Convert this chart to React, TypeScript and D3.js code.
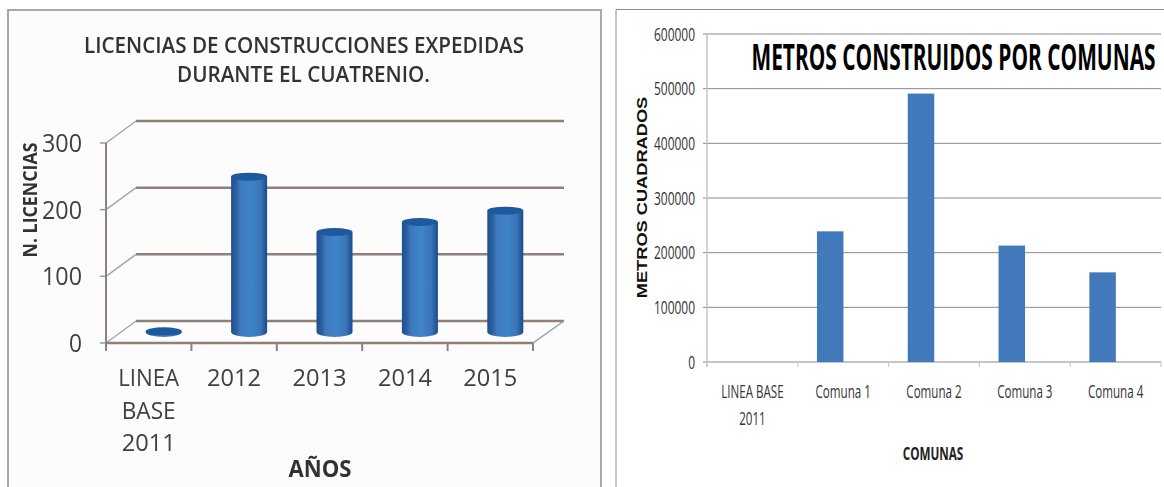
import React from "react";
import * as d3 from "d3";

const leftCategories = ["LINEA BASE 2011", "2012", "2013", "2014", "2015"];
const leftCategoryLines = [["LINEA", "BASE", "2011"], ["2012"], ["2013"], ["2014"], ["2015"]];
const leftValues = [1, 233, 150, 165, 182];
const leftTicks = [0, 100, 200, 300];
const leftTitle = ["LICENCIAS DE CONSTRUCCIONES EXPEDIDAS", "DURANTE EL CUATRENIO."];

const rightCategories = ["LINEA BASE 2011", "Comuna 1", "Comuna 2", "Comuna 3", "Comuna 4"];
const rightCategoryLines = [["LINEA BASE", "2011"], ["Comuna 1"], ["Comuna 2"], ["Comuna 3"], ["Comuna 4"]];
const rightValues = [0, 239000, 491000, 213000, 164000];
const rightTicks = [0, 100000, 200000, 300000, 400000, 500000, 600000];

const FONT = "'Open Sans', 'Liberation Sans', sans-serif";
const WALL = "#8f8078";

function LeftChart() {
  const x = d3.scaleBand<string>().domain(leftCategories).range([106, 533]);
  const y = d3.scaleLinear().domain([0, 300]).range([343, 143]);
  const dx = 30, dy = -22;
  const ellipse = d3.arc();
  const rx = 18, ry = 4;
  return (
    <g>
      <rect x={8} y={10} width={592} height={477} fill="#fcfcfc" />
      <path d="M8,487V10H600" fill="none" stroke="#a8a8a8" strokeWidth={2} />
      <g filter="url(#soft)">
        {leftTitle.map((t, i) => (
          <text key={t} x={i === 0 ? 304 : 303.5} y={[53, 82][i]} textAnchor="middle" fontFamily={FONT} fontWeight={600}
            fontSize={21} fill="#333" textLength={i === 0 ? 440 : 253} lengthAdjust="spacingAndGlyphs">{t}</text>
        ))}
        {leftTicks.map((t) => (
          <g key={t}>
            <line x1={136} x2={564} y1={y(t) + dy} y2={y(t) + dy} stroke={WALL} strokeWidth={2.5} />
            <line x1={106} x2={136} y1={y(t)} y2={y(t) + dy} stroke="#9fa9ad" strokeWidth={1.5} />
            <line x1={100} x2={106} y1={y(t)} y2={y(t)} stroke="#7fa3bd" strokeWidth={1.5} />
            <text x={82} y={y(t) + 9} fontFamily={FONT} fontSize={25} fill="#404040"
              textAnchor="end" textLength={t === 0 ? 13 : 40} lengthAdjust="spacingAndGlyphs">{t}</text>
          </g>
        ))}
        <line x1={106} x2={106} y1={y(300)} y2={y(0) + 5} stroke={WALL} strokeWidth={2} />
        <line x1={106} x2={533} y1={y(0)} y2={y(0)} stroke={WALL} strokeWidth={2.5} />
        <line x1={533} x2={564} y1={y(0)} y2={y(0) + dy} stroke="#7fa3bd" strokeWidth={1.5} />
        {leftCategories.map((c) => (
          <line key={c} x1={x(c)!} x2={x(c)!} y1={y(0)} y2={y(0) + 8} stroke={WALL} strokeWidth={2} />
        ))}
        <line x1={533} x2={533} y1={y(0)} y2={y(0) + 8} stroke={WALL} strokeWidth={2} />
        {leftCategories.map((c, i) => {
          const cx = x(c)! + x.bandwidth() / 2 + dx / 2;
          const base = y(0) + dy / 2;
          const top = y(leftValues[i]) + dy / 2;
          const lid = ellipse({ innerRadius: 0, outerRadius: 1, startAngle: 0, endAngle: 2 * Math.PI } as any)!;
          return (
            <g key={c}>
              <path
                d={`M${cx - rx},${top}V${base}A${rx},${ry + 1} 0 0 0 ${cx + rx},${base}V${top}Z`}
                fill="url(#cyl)"
              />
              <path d={lid} transform={`translate(${cx},${top}) scale(${rx},${ry})`} fill="#1f5a9c" />
            </g>
          );
        })}
        {leftCategoryLines.map((lines, i) =>
          lines.map((l, j) => (
            <text key={l + i} x={x(leftCategories[i])! + x.bandwidth() / 2} y={386 + j * 32.5} textAnchor="middle"
              fontFamily={FONT} fontSize={23} fill="#404040"
              textLength={l.length === 5 ? 61 : 54} lengthAdjust="spacingAndGlyphs">{l}</text>
          ))
        )}
        <text x={320} y={477} textAnchor="middle" fontFamily={FONT} fontWeight={700} fontSize={23} fill="#333"
          textLength={63} lengthAdjust="spacingAndGlyphs">AÑOS</text>
        <text transform="translate(37,200) rotate(-90)" x={0} y={0} textAnchor="middle" fontFamily={FONT} fontWeight={700}
          fontSize={19} fill="#333" textLength={115} lengthAdjust="spacingAndGlyphs">N. LICENCIAS</text>
      </g>
    </g>
  );
}

function RightChart() {
  const x = d3.scaleBand<string>().domain(rightCategories).range([707, 1161]);
  const y = d3.scaleLinear().domain([0, 600000]).range([362, 34]);
  const barW = 26.5;
  const barShift = -13;
  return (
    <g>
      <path d="M616,487V9.5H1164" fill="none" stroke="#8c8c8c" strokeWidth={1} />
      <line x1={601} x2={601} y1={9} y2={487} stroke="#8c8c8c" strokeWidth={1.5} />
      {rightTicks.map((t) => (
        <g key={t}>
          <line x1={703} x2={1161} y1={y(t)} y2={y(t)} stroke="#8a8a8a" strokeWidth={1} />
          <text transform={`translate(695,${y(t) + 6.5}) scale(0.665,1)`} textAnchor="end" fontFamily={FONT}
            fontSize={18} fill="#333">{t}</text>
        </g>
      ))}
      <line x1={707} x2={707} y1={34} y2={367} stroke="#c4c4c4" strokeWidth={1.5} />
      {rightCategories.map((c) => (
        <line key={c} x1={x(c)!} x2={x(c)!} y1={362} y2={367} stroke="#c4c4c4" strokeWidth={1} />
      ))}
      <line x1={1161} x2={1161} y1={362} y2={367} stroke="#c4c4c4" strokeWidth={1} />
      {rightCategories.map((c, i) => (
        <rect key={c} x={x(c)! + x.bandwidth() / 2 - barW / 2 + barShift} y={y(rightValues[i])}
          width={barW} height={y(0) - y(rightValues[i])} fill="#4279ba" />
      ))}
      {rightCategoryLines.map((lines, i) =>
        lines.map((l, j) => (
          <text key={l + i} transform={`translate(${x(rightCategories[i])! + x.bandwidth() / 2},${398 + j * 27}) scale(0.645,1)`}
            textAnchor="middle" fontFamily={FONT} fontSize={18} fill="#333">{l}</text>
        ))
      )}
      <text transform="translate(933,460) scale(0.65,1)" textAnchor="middle" fontFamily={FONT} fontWeight={700}
        fontSize={18} fill="#222">COMUNAS</text>
      <text transform="translate(953.5,70) scale(0.597,1)" textAnchor="middle" fontFamily={FONT} fontWeight={700}
        fontSize={35} fill="#000">METROS CONSTRUIDOS POR COMUNAS</text>
      <text transform="translate(647,197.5) rotate(-90) scale(1.215,1)" textAnchor="middle" fontFamily="'Liberation Sans', sans-serif"
        fontWeight={700} fontSize={15} fill="#111">METROS CUADRADOS</text>
    </g>
  );
}

export default function App() {
  return (
    <svg width={1164} height={487} style={{ position: "absolute", left: 0, top: 0, background: "#fff" }}>
      <defs>
        <filter id="soft" x="-5%" y="-5%" width="110%" height="110%">
          <feGaussianBlur stdDeviation="0.6" />
        </filter>
        <linearGradient id="cyl" x1="0" x2="1" y1="0" y2="0">
          <stop offset="0" stopColor="#1d4f90" />
          <stop offset="0.14" stopColor="#2a5f9f" />
          <stop offset="0.25" stopColor="#3e78bd" />
          <stop offset="0.55" stopColor="#3f84c8" />
          <stop offset="0.82" stopColor="#3a74b8" />
          <stop offset="1" stopColor="#1a4a8c" />
        </linearGradient>
      </defs>
      <LeftChart />
      <RightChart />
    </svg>
  );
}
